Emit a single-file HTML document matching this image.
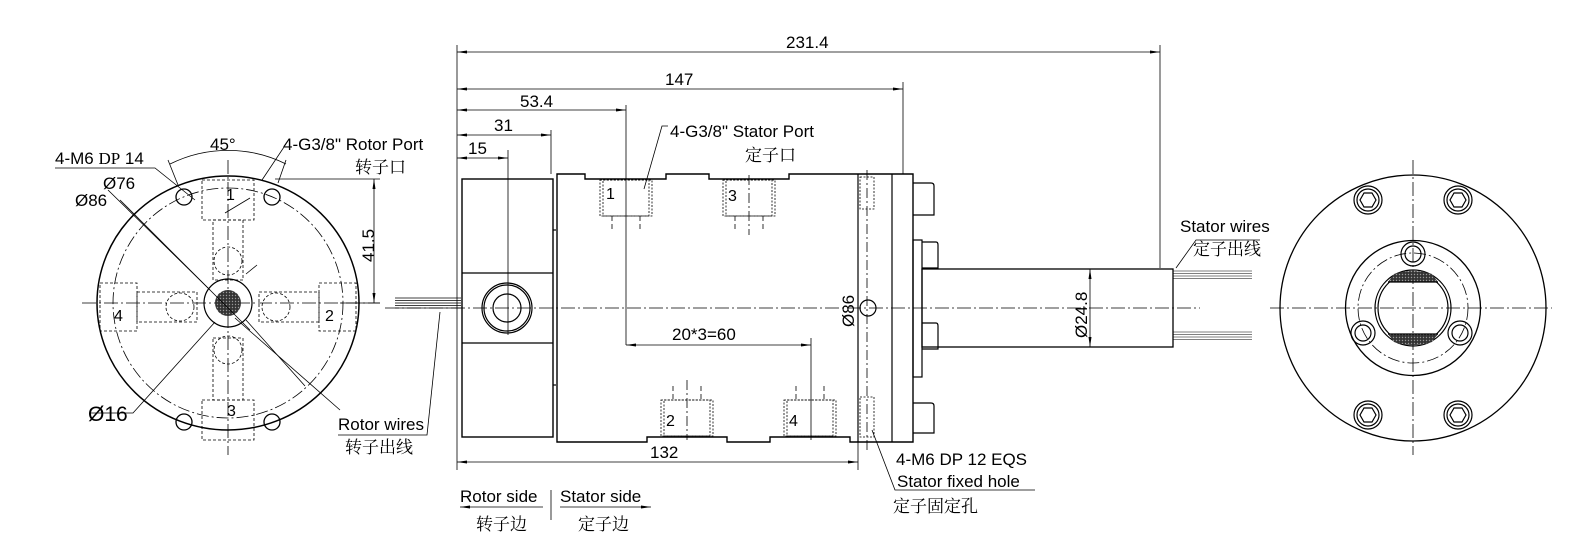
<!DOCTYPE html>
<html><head><meta charset="utf-8"><style>
html,body{margin:0;padding:0;background:#fff}
svg{display:block}
text{font-family:"Liberation Sans","Noto Sans CJK SC",sans-serif;fill:#000}
.cn{font-family:"Liberation Serif","Noto Serif CJK SC",serif}
</style></head><body>
<svg width="1586" height="557" viewBox="0 0 1586 557" xmlns="http://www.w3.org/2000/svg">
<defs>
<marker id="a" markerWidth="10" markerHeight="6" refX="10" refY="3" orient="auto-start-reverse" markerUnits="userSpaceOnUse"><path d="M0,1.5 L10,3 L0,4.5 z" fill="#000"/></marker>
<pattern id="h" width="3" height="3" patternUnits="userSpaceOnUse"><rect width="3" height="3" fill="#333"/><circle cx="1.5" cy="1.5" r="0.7" fill="#999"/></pattern>
</defs>
<g stroke="#000" fill="none" stroke-width="1.2">
<!-- LEFT VIEW -->
<line x1="82" y1="303" x2="380" y2="303" stroke-width="0.8" stroke-dasharray="14,3,2,3"/>
<line x1="228" y1="160" x2="228" y2="455" stroke-width="0.8" stroke-dasharray="14,3,2,3"/>
<ellipse cx="228" cy="303" rx="131" ry="127" stroke-width="1.5"/>
<circle cx="228" cy="303" r="115" stroke-width="0.8" stroke-dasharray="12,3,2,3"/>
<circle cx="228" cy="303" r="24"/>
<circle cx="228" cy="303" r="13" fill="url(#h)" stroke="none"/>
<g stroke-width="1.3">
<circle cx="184" cy="197" r="8"/><circle cx="272" cy="197" r="8"/>
<circle cx="184" cy="422" r="8"/><circle cx="272" cy="422" r="8"/>
</g>
<g stroke-width="0.8" stroke-dasharray="3,2">
<rect x="202" y="180" width="52" height="40"/><rect x="213" y="220" width="30" height="60"/>
<circle cx="228" cy="261" r="14"/>
<rect x="202" y="400" width="52" height="40"/><rect x="213" y="338" width="30" height="62"/>
<circle cx="228" cy="350" r="14"/>
<rect x="100" y="283" width="37" height="48"/><rect x="137" y="292" width="60" height="30"/>
<circle cx="180" cy="307" r="14"/>
<rect x="319" y="283" width="37" height="48"/><rect x="259" y="292" width="60" height="30"/>
<circle cx="276" cy="307" r="14"/>
</g>
<g stroke-width="0.8">
<polyline points="55,168 155,168 195,200"/>
<line x1="108" y1="190" x2="210" y2="290"/>
<line x1="120" y1="200" x2="250" y2="330"/>
<line x1="225" y1="213" x2="250" y2="198" />
<polyline points="90,413 133,413 215,322"/>
<line x1="235" y1="318" x2="340" y2="410"/>
<line x1="246" y1="274" x2="257" y2="265"/>
<line x1="246" y1="320" x2="305" y2="386"/>
<path d="M170,164 A130,130 0 0 1 286,164"/>
<line x1="168" y1="160" x2="178" y2="185"/><line x1="286" y1="160" x2="278" y2="183"/>
<polyline points="262,180 284,147 290,147"/>
<line x1="275" y1="179" x2="380" y2="179"/>
<line x1="374" y1="179" x2="374" y2="303" marker-start="url(#a)" marker-end="url(#a)"/>
<line x1="340" y1="303" x2="380" y2="303"/>
</g>
<g stroke-width="0.7">
<line x1="395" y1="298" x2="461" y2="298"/><line x1="395" y1="300.5" x2="461" y2="300.5"/>
<line x1="395" y1="303" x2="461" y2="303"/><line x1="395" y1="305.5" x2="461" y2="305.5"/>
<line x1="395" y1="308" x2="461" y2="308"/>
<polyline points="338,435 427,435 440,312" stroke-width="0.8"/>
</g>

<!-- SIDE VIEW -->
<line x1="385" y1="308" x2="1200" y2="308" stroke-width="0.8" stroke-dasharray="14,3,2,3"/>
<rect x="462" y="179" width="91" height="258" stroke-width="1.4"/>
<line x1="462" y1="273" x2="553" y2="273"/><line x1="462" y1="343" x2="553" y2="343"/>
<circle cx="507" cy="308" r="25"/><circle cx="507" cy="308" r="23"/><circle cx="507" cy="308" r="14"/>
<line x1="553" y1="230" x2="556" y2="230"/><line x1="553" y1="385" x2="556" y2="385"/>
<path d="M557,174 L585,174 L585,179 L666,179 L666,174 L709,174 L709,179 L789,179 L789,174 L913,174 L913,442 L850,442 L850,437 L770,437 L770,442 L727,442 L727,437 L647,437 L647,442 L557,442 Z" stroke-width="1.4"/>
<line x1="858" y1="174" x2="858" y2="442"/><line x1="892" y1="174" x2="892" y2="442"/>
<g stroke-width="0.8" stroke-dasharray="2,1.5">
<rect x="600" y="180" width="52" height="36"/><rect x="603" y="180" width="46" height="36"/>
<rect x="723" y="180" width="52" height="36"/><rect x="726" y="180" width="46" height="36"/>
<rect x="661" y="400" width="52" height="36"/><rect x="664" y="400" width="46" height="36"/>
<rect x="784" y="400" width="52" height="36"/><rect x="787" y="400" width="46" height="36"/>
<rect x="860" y="177" width="14" height="32"/><rect x="860" y="397" width="14" height="40"/>
</g>
<g stroke-width="0.8" stroke-dasharray="5,3">
<line x1="612" y1="216" x2="612" y2="230"/><line x1="640" y1="216" x2="640" y2="230"/>
<line x1="735" y1="216" x2="735" y2="230"/><line x1="763" y1="216" x2="763" y2="230"/>
<line x1="673" y1="386" x2="673" y2="400"/><line x1="701" y1="386" x2="701" y2="400"/>
<line x1="796" y1="386" x2="796" y2="400"/><line x1="824" y1="386" x2="824" y2="400"/>
<line x1="749" y1="175" x2="749" y2="235" stroke-dasharray="10,3,2,3"/>
<line x1="687" y1="380" x2="687" y2="440" stroke-dasharray="10,3,2,3"/>
<line x1="867" y1="170" x2="867" y2="450" stroke-dasharray="10,3,2,3"/>
</g>
<circle cx="868" cy="308" r="8"/>
<path d="M913,183 L931,183 Q934,183 934,186 L934,215 L913,215"/>
<path d="M922,242 L936,242 Q938,242 938,245 L938,268 L922,268"/>
<path d="M922,323 L936,323 Q938,323 938,326 L938,349 L922,349"/>
<path d="M913,403 L931,403 Q934,403 934,406 L934,433 L913,433"/>
<rect x="913" y="240" width="9" height="137"/>
<rect x="922" y="269" width="251" height="78" stroke-width="1.3"/>
<g stroke-width="0.6">
<line x1="1173" y1="271" x2="1252" y2="271"/><line x1="1173" y1="273.5" x2="1252" y2="273.5"/><line x1="1173" y1="276" x2="1252" y2="276"/><line x1="1173" y1="278.5" x2="1252" y2="278.5"/>
<line x1="1173" y1="332" x2="1252" y2="332"/><line x1="1173" y1="334.5" x2="1252" y2="334.5"/><line x1="1173" y1="337" x2="1252" y2="337"/><line x1="1173" y1="339.5" x2="1252" y2="339.5"/>
</g>
<g stroke-width="0.8">
<line x1="457" y1="45" x2="457" y2="470"/>
<line x1="1160" y1="45" x2="1160" y2="268"/>
<line x1="903" y1="82" x2="903" y2="174"/>
<line x1="626" y1="105" x2="626" y2="345"/>
<line x1="551" y1="130" x2="551" y2="174"/>
<line x1="508" y1="150" x2="508" y2="335"/>
<line x1="811" y1="338" x2="811" y2="440"/>
<line x1="858" y1="442" x2="858" y2="470"/>
<line x1="457" y1="52" x2="1160" y2="52" marker-start="url(#a)" marker-end="url(#a)"/>
<line x1="457" y1="89" x2="903" y2="89" marker-start="url(#a)" marker-end="url(#a)"/>
<line x1="457" y1="110" x2="626" y2="110" marker-start="url(#a)" marker-end="url(#a)"/>
<line x1="457" y1="135" x2="551" y2="135" marker-start="url(#a)" marker-end="url(#a)"/>
<line x1="457" y1="158" x2="508" y2="158" marker-start="url(#a)" marker-end="url(#a)"/>
<line x1="626" y1="345" x2="811" y2="345" marker-start="url(#a)" marker-end="url(#a)"/>
<line x1="457" y1="462" x2="858" y2="462" marker-start="url(#a)" marker-end="url(#a)"/>
<line x1="1090" y1="269" x2="1090" y2="347" marker-start="url(#a)" marker-end="url(#a)"/>
<polyline points="644,189 662,126 668,126"/>
<polyline points="1176,268 1196,240 1260,240"/>
<polyline points="872,430 895,490 1035,490"/>
<line x1="460" y1="507" x2="543" y2="507" marker-start="url(#a)"/>
<line x1="560" y1="507" x2="651" y2="507" marker-end="url(#a)"/>
<line x1="551" y1="490" x2="551" y2="520"/>
</g>

<!-- RIGHT VIEW -->
<line x1="1270" y1="308" x2="1552" y2="308" stroke-width="0.8" stroke-dasharray="14,3,2,3"/>
<line x1="1413" y1="160" x2="1413" y2="455" stroke-width="0.8" stroke-dasharray="14,3,2,3"/>
<circle cx="1413" cy="308" r="133" stroke-width="1.3"/>
<circle cx="1413" cy="308" r="67.5" stroke-width="1.3"/>
<circle cx="1413" cy="308" r="55" stroke-width="0.8" stroke-dasharray="12,3,2,3"/>
<circle cx="1413" cy="308" r="38"/><circle cx="1413" cy="308" r="35"/>
<path d="M1388,282 L1438,282 L1432,274 Q1413,268 1394,274 Z" fill="url(#h)" stroke="none"/>
<path d="M1388,334 L1438,334 L1432,342 Q1413,348 1394,342 Z" fill="url(#h)" stroke="none"/>
<line x1="1388" y1="282" x2="1438" y2="282"/><line x1="1388" y1="334" x2="1438" y2="334"/>
<g>
<circle cx="1368" cy="200" r="14"/><circle cx="1368" cy="200" r="11"/><polygon points="1376,200 1372,207 1364,207 1360,200 1364,193 1372,193"/>
<circle cx="1458" cy="200" r="14"/><circle cx="1458" cy="200" r="11"/><polygon points="1466,200 1462,207 1454,207 1450,200 1454,193 1462,193"/>
<circle cx="1368" cy="415" r="14"/><circle cx="1368" cy="415" r="11"/><polygon points="1376,415 1372,422 1364,422 1360,415 1364,408 1372,408"/>
<circle cx="1458" cy="415" r="14"/><circle cx="1458" cy="415" r="11"/><polygon points="1466,415 1462,422 1454,422 1450,415 1454,408 1462,408"/>
<circle cx="1413" cy="254" r="12"/><circle cx="1413" cy="254" r="8"/>
<circle cx="1363" cy="333" r="12"/><circle cx="1363" cy="333" r="8"/>
<circle cx="1460" cy="333" r="12"/><circle cx="1460" cy="333" r="8"/>
</g>
</g>

<g font-size="17">
<text x="210" y="150">45°</text>
<text x="283" y="150">4-G3/8"  Rotor Port</text>
<text x="355" y="173" class="cn">转子口</text>
<text x="55" y="164">4-M6 <tspan class="cn">DP</tspan>  14</text>
<text x="103" y="189">Ø76</text>
<text x="75" y="206">Ø86</text>
<text x="88" y="421" font-size="21">Ø16</text>
<text x="226" y="200" font-size="16">1</text>
<text x="325" y="321" font-size="16">2</text>
<text x="227" y="416" font-size="16">3</text>
<text x="114" y="321" font-size="16">4</text>
<text transform="translate(374,262) rotate(-90)">41.5</text>
<text x="338" y="430">Rotor wires</text>
<text x="345" y="453" class="cn">转子出线</text>
<text x="786" y="48">231.4</text>
<text x="665" y="85">147</text>
<text x="520" y="107">53.4</text>
<text x="494" y="131">31</text>
<text x="468" y="154">15</text>
<text x="670" y="137">4-G3/8" Stator Port</text>
<text x="745" y="161" class="cn">定子口</text>
<text x="606" y="199" font-size="16">1</text>
<text x="728" y="201" font-size="16">3</text>
<text x="666" y="426" font-size="16">2</text>
<text x="789" y="426" font-size="16">4</text>
<text x="672" y="340">20*3=60</text>
<text x="650" y="458">132</text>
<text transform="translate(854,327) rotate(-90)">Ø86</text>
<text transform="translate(1087,338) rotate(-90)">Ø24.8</text>
<text x="1180" y="232">Stator wires</text>
<text x="1193" y="255" class="cn">定子出线</text>
<text x="896" y="465">4-M6 DP 12 EQS</text>
<text x="897" y="487">Stator fixed hole</text>
<text x="893" y="512" class="cn">定子固定孔</text>
<text x="460" y="502">Rotor side</text>
<text x="560" y="502">Stator side</text>
<text x="476" y="530" class="cn">转子边</text>
<text x="578" y="530" class="cn">定子边</text>
</g>
</svg>
</body></html>
